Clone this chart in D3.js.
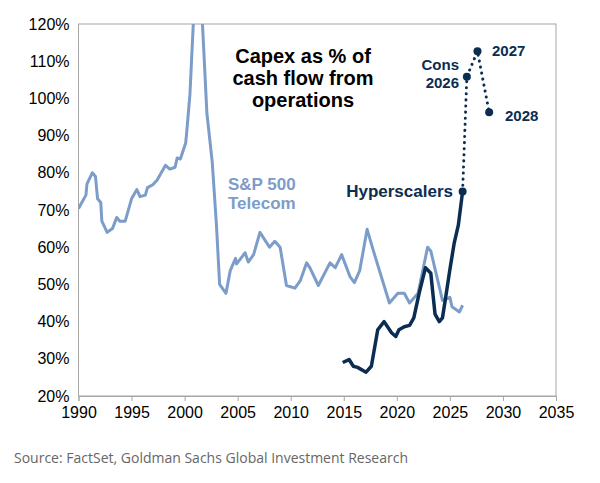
<!DOCTYPE html>
<html><head><meta charset="utf-8">
<script src="https://cdn.jsdelivr.net/npm/d3@7"></script>
<style>body{margin:0;background:#fff;font-family:"Liberation Sans",Arial,sans-serif}</style>
</head><body><svg id="c" width="600" height="483"></svg>
<script>
const telecomYears=[1990,1990.7,1990.8,1991.3,1991.6,1991.8,1992.1,1992.2,1992.7,1993.2,1993.6,1993.9,1994.4,1995.0,1995.5,1995.8,1996.3,1996.5,1997.0,1997.4,1998.2,1998.6,1999.1,1999.3,1999.6,2000.1,2000.2,2000.5,2000.8,2001.2,2001.7,2002.1,2002.6,2003.0,2003.3,2003.9,2004.3,2004.8,2004.9,2005.7,2006.0,2006.5,2007.1,2008.0,2008.5,2009.0,2009.6,2010.4,2010.9,2011.5,2011.8,2012.6,2013.7,2014.2,2014.8,2015.6,2016.0,2016.5,2017.2,2017.9,2019.3,2020.1,2020.7,2021.2,2022.0,2022.9,2023.2,2024.3,2025.0,2025.2,2025.9,2026.2];
const telecomVals=[70.4,74,77,80,79,73,72,67,64,65,68,67,67,73,75.5,73.6,74,76,76.8,78,82,81,81.5,84,83.7,88,91,101,119,140,119,96,83,66,50,47.6,53.7,57,55.5,58.5,56,58,64,60,61.6,60,49.7,49,51,55.8,54.5,49.7,55.8,54.5,58,52,50.5,53.7,64.8,58,45,47.6,47.6,45,47.6,60,59,45.7,46.5,44,42.6,44.4];
const hyperYears=[2014.9,2015.5,2015.9,2016.3,2017.1,2017.6,2018.2,2018.8,2019.5,2019.9,2020.2,2020.7,2021.2,2021.6,2022.1,2022.7,2023.2,2023.6,2024.0,2024.3,2024.6,2025.0,2025.4,2025.8,2026.2];
const hyperVals=[29,29.8,28,27.7,26.4,28,37.8,40,37,36,37.8,38.6,39,41,47.6,54.5,53,42,40,41,46.5,54,61,66,75];
const projYears=[2026.2,2026.6,2027.6,2028.7];
const projVals=[75,105.8,112.7,96.3];
const xTicks=[1990,1995,2000,2005,2010,2015,2020,2025,2030,2035];
const yTicks=[20,30,40,50,60,70,80,90,100,110,120];

const svg=d3.select("#c");
const x=d3.scaleLinear().domain([1990,2035]).range([78.5,556]);
const y=d3.scaleLinear().domain([20,120]).range([396,24]);
svg.append("defs").append("clipPath").attr("id","cp").append("rect").attr("x",78.5).attr("y",24).attr("width",477.5).attr("height",372);
svg.append("rect").attr("x",78.5).attr("y",24).attr("width",477.5).attr("height",372).attr("fill","none").attr("stroke","#a6a6a6");
const xa=svg.append("g").attr("transform","translate(0,396)").call(d3.axisBottom(x).tickValues(xTicks).tickFormat(d3.format("d")).tickSize(5));
xa.selectAll("text").attr("font-size",16).attr("fill","#000").attr("dy","0.9em").attr("font-family","Liberation Sans,Arial");
const ya=svg.append("g").attr("transform","translate(78.5,0)").call(d3.axisLeft(y).tickValues(yTicks).tickFormat(d=>d+"%").tickSize(0).tickPadding(9));
ya.selectAll("text").attr("font-size",16).attr("fill","#000").attr("font-family","Liberation Sans,Arial");
[xa,ya].forEach(a=>{a.selectAll("path,line").attr("stroke","#a6a6a6");});
ya.select("path").remove();

const line=d3.line().x(d=>x(d[0])).y(d=>y(d[1]));
const g=svg.append("g").attr("clip-path","url(#cp)");
g.append("path").datum(d3.zip(telecomYears,telecomVals)).attr("d",line).attr("fill","none").attr("stroke","#7c9cc9").attr("stroke-width",3).attr("stroke-linejoin","round");
g.append("path").datum(d3.zip(hyperYears,hyperVals)).attr("d",line).attr("fill","none").attr("stroke","#0b2d52").attr("stroke-width",3.5).attr("stroke-linejoin","round");
g.append("path").datum(d3.zip(projYears,projVals)).attr("d",line).attr("fill","none").attr("stroke","#0b2d52").attr("stroke-width",3).attr("stroke-dasharray","0.1,6").attr("stroke-linecap","round");
svg.selectAll(".dot").data(d3.zip(projYears,projVals)).enter().append("circle").attr("cx",d=>x(d[0])).attr("cy",d=>y(d[1])).attr("r",4).attr("fill","#0b2d52");

function txt(lines,xx,yy,size,fill,anchor,lh){
  const t=svg.append("text").attr("x",xx).attr("y",yy).attr("font-size",size).attr("fill",fill).attr("text-anchor",anchor).attr("font-weight","bold");
  lines.forEach((l,i)=>t.append("tspan").attr("x",xx).attr("dy",i?lh:0).text(l));
}
txt(["Capex as % of","cash flow from","operations"],303,63,20,"#000","middle",22);
txt(["S&P 500","Telecom"],228,190,17,"#7c9cc9","start",19);
txt(["Hyperscalers"],453,197,17,"#0b2d52","end",19);
txt(["Cons","2026"],459,70,15,"#0b2d52","end",18);
txt(["2027"],492,56,15,"#0b2d52","start",18);
txt(["2028"],505,121,15,"#0b2d52","start",18);
svg.append("text").attr("x",14).attr("y",463).attr("font-size",14).attr("fill","#666").attr("font-family","Open Sans, sans-serif").text("Source: FactSet, Goldman Sachs Global Investment Research");
</script></body></html>
